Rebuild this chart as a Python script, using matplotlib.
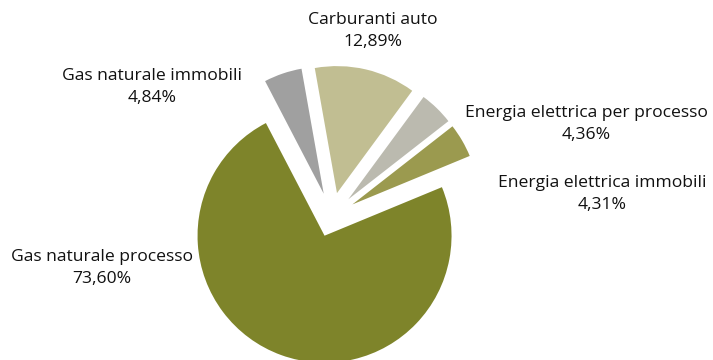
import matplotlib
matplotlib.use("Agg")
import matplotlib.pyplot as plt

# Energy consumption shares (%)
categories = [
    "Gas naturale immobili",
    "Carburanti auto",
    "Energia elettrica per processo",
    "Energia elettrica immobili",
    "Gas naturale processo",
]
shares = [4.84, 12.89, 4.36, 4.31, 73.60]
share_labels = ["4,84%", "12,89%", "4,36%", "4,31%", "73,60%"]

colors = ["#a0a0a0", "#c1be92", "#bbbaaf", "#9b9a4f", "#7e842a"]
explode = [0.19, 0.19, 0.19, 0.19, 0.16]

# label anchor points in figure pixels (x, y from top)
label_pos = [(152, 87), (373, 31), (586, 124), (602, 194), (102, 268)]

W, H = 713, 360
R = 127.0            # pie radius in pixels
cx, cy = 331.5, 216.6  # pie centre in pixels (y from top)

plt.rcParams["font.family"] = ["Open Sans", "DejaVu Sans"]
fig = plt.figure(figsize=(W / 100, H / 100), dpi=100)
ax = fig.add_axes([0, 0, 1, 1])

ax.pie(shares, colors=colors, explode=explode, startangle=117.5,
       counterclock=False, radius=1.0, center=(0, 0),
       wedgeprops=dict(linewidth=0))

ax.set_xlim(-cx / R, (W - cx) / R)
ax.set_ylim(-(H - cy) / R, cy / R)
ax.set_aspect("auto")
ax.axis("off")

for name, lab, (px, py) in zip(categories, share_labels, label_pos):
    fig.text(px / W, 1 - py / H, f"{name}\n{lab}", ha="center", va="center",
             fontsize=12.6, color="#111111", linespacing=1.45)

fig.savefig("out.png", dpi=100)
